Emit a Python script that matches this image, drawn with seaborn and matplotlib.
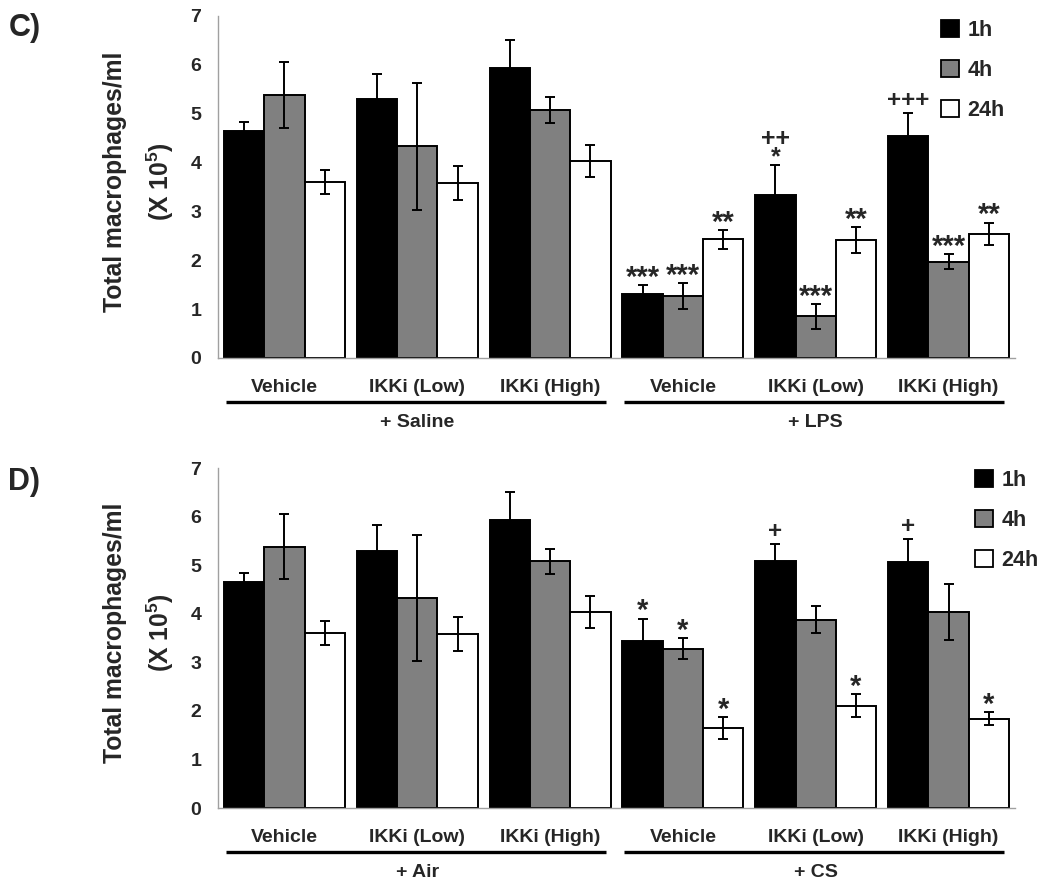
import matplotlib
matplotlib.use("Agg")
import matplotlib.pyplot as plt
import matplotlib.transforms as mtransforms
from matplotlib.patches import Patch
import seaborn as sns
import pandas as pd

# groups along the x axis (two treatments x three drug groups)
groups = ["Vehicle", "IKKi (Low)", "IKKi (High)", "Vehicle", "IKKi (Low)", "IKKi (High)"]
times = ["1h", "4h", "24h"]

# panel C: saline vs LPS
c_1h = [4.65, 5.30, 5.93, 1.32, 3.34, 4.55]
c_4h = [5.38, 4.33, 5.08, 1.27, 0.85, 1.97]
c_24h = [3.60, 3.58, 4.03, 2.43, 2.41, 2.54]
c_err_1h = [0.18, 0.52, 0.57, 0.17, 0.61, 0.47]
c_err_4h = [0.67, 1.30, 0.26, 0.26, 0.26, 0.15]
c_err_24h = [0.24, 0.35, 0.33, 0.19, 0.27, 0.23]
c_marks_1h = ["", "", "", "***", "++\n*", "+++"]
c_marks_4h = ["", "", "", "***", "***", "***"]
c_marks_24h = ["", "", "", "**", "**", "**"]
c_treat = ["+ Saline", "+ LPS"]

# panel D: air vs CS
d_1h = [4.65, 5.30, 5.93, 3.43, 5.08, 5.06]
d_4h = [5.38, 4.33, 5.08, 3.28, 3.88, 4.03]
d_24h = [3.60, 3.58, 4.03, 1.65, 2.11, 1.84]
d_err_1h = [0.18, 0.52, 0.57, 0.47, 0.35, 0.47]
d_err_4h = [0.67, 1.30, 0.26, 0.22, 0.27, 0.58]
d_err_24h = [0.24, 0.35, 0.33, 0.22, 0.23, 0.13]
d_marks_1h = ["", "", "", "*", "+", "+"]
d_marks_4h = ["", "", "", "*", "", ""]
d_marks_24h = ["", "", "", "*", "*", "*"]
d_treat = ["+ Air", "+ CS"]

colors = ["#000000", "#808080", "#ffffff"]

sns.set_style("white")
plt.rcParams['font.family'] = ['Liberation Sans', 'DejaVu Sans']
plt.rcParams['font.weight'] = 'bold'
plt.rcParams['mathtext.fontset'] = 'custom'
plt.rcParams['mathtext.rm'] = 'Liberation Sans:bold'
plt.rcParams['mathtext.default'] = 'rm'


def put_mark(ax, x, y, mark):
    # stars are drawn bigger than plus signs
    if "\n" in mark:
        size, off, va = 18, -3.3, "bottom"
    elif mark.startswith("+"):
        size, off, va = 17.5, 4.3, "baseline"
    else:
        size, off, va = 21, -0.5, "baseline"
    ax.annotate(mark, (x, y), xytext=(0, off), textcoords="offset points",
                ha="center", va=va, fontsize=size, fontweight="bold", linespacing=0.71)


def draw_panel(ax, vals, errs, marks, treat, leg_x, leg_y):
    keys = [f"g{i}" for i in range(len(groups))]
    rows = []
    for t, v in zip(times, vals):
        for k, y in zip(keys, v):
            rows.append({"group": k, "time": t, "value": y})
    df = pd.DataFrame(rows)
    sns.barplot(data=df, x="group", y="value", hue="time", order=keys, hue_order=times,
                palette=colors, saturation=1, width=0.91, errorbar=None,
                edgecolor="black", linewidth=1.4, legend=False, ax=ax)

    # error bars and significance marks on the library's bars
    for cont, e, m in zip(ax.containers, errs, marks):
        xs = [p.get_x() + p.get_width() / 2 for p in cont.patches]
        hs = [p.get_height() for p in cont.patches]
        ax.errorbar(xs, hs, yerr=e, fmt="none", ecolor="black", elinewidth=1.4,
                    capsize=3.8, capthick=1.4, zorder=5)
        for x, h, ee, mm in zip(xs, hs, e, m):
            if mm:
                put_mark(ax, x, h + ee, mm)

    ax.set_xlim(-0.5, 5.5)
    ax.set_ylim(0, 7)
    ax.set_yticks(range(8))
    ax.set_xticks(range(6))
    ax.set_xticklabels(groups)
    ax.set_xlabel("")
    ax.set_ylabel("")
    ax.set_xticks([i - 0.5 for i in range(7)], minor=True)
    ax.tick_params(axis="x", which="major", length=0, pad=15, labelsize=14)
    ax.tick_params(axis="x", which="minor", length=4, color="#a0a0a0", direction="out")
    ax.tick_params(axis="y", length=4, color="#a0a0a0", direction="out", pad=8, labelsize=14)
    for lab in ax.get_xticklabels() + ax.get_yticklabels():
        lab.set_fontweight("bold")
    sns.despine(ax=ax)
    for s in ("left", "bottom"):
        ax.spines[s].set_color("#a0a0a0")
        ax.spines[s].set_linewidth(1)

    trans = mtransforms.blended_transform_factory(ax.transData, ax.transAxes)
    for start, name in zip([0, 3], treat):
        ax.plot([start - 0.44, start + 2.42], [-0.13, -0.13], color="black", lw=2.4,
                transform=trans, clip_on=False, solid_capstyle="butt")
        ax.text(start + 1, -0.19, name, transform=trans, ha="center", va="center",
                fontsize=14, fontweight="bold")

    ax.text(-0.129, 0.515, "Total macrophages/ml", transform=ax.transAxes, rotation=90,
            ha="center", va="center", fontsize=17.8, fontweight="bold")
    ax.text(-0.072, 0.515, "(X 10$^{5}$)", transform=ax.transAxes, rotation=90,
            ha="center", va="center", fontsize=17.8, fontweight="bold")

    handles = [Patch(facecolor=c, edgecolor="black", linewidth=1.3) for c in colors]
    leg = ax.legend(handles, times, loc="upper left", bbox_to_anchor=(leg_x, leg_y),
                    frameon=False, borderaxespad=0, borderpad=0, handlelength=0.85,
                    handleheight=0.85, labelspacing=0.88, handletextpad=0.38,
                    prop={"size": 15.5, "weight": "bold"})
    leg.set_clip_on(False)


fig = plt.figure(figsize=(10.5, 8.88), dpi=100)
ax_c = fig.add_axes([218 / 1050, 1 - 358 / 888, 797 / 1050, 342 / 888])
ax_d = fig.add_axes([218 / 1050, 1 - 808 / 888, 797 / 1050, 340 / 888])

draw_panel(ax_c, [c_1h, c_4h, c_24h], [c_err_1h, c_err_4h, c_err_24h],
           [c_marks_1h, c_marks_4h, c_marks_24h], c_treat, 0.907, 0.988)
draw_panel(ax_d, [d_1h, d_4h, d_24h], [d_err_1h, d_err_4h, d_err_24h],
           [d_marks_1h, d_marks_4h, d_marks_24h], d_treat, 0.95, 0.995)

fig.text(0.008, 1 - 28 / 888, "C)", fontsize=22, fontweight="bold", va="center")
fig.text(0.008, 1 - 482 / 888, "D)", fontsize=22, fontweight="bold", va="center")

fig.savefig("out.png", dpi=100)
